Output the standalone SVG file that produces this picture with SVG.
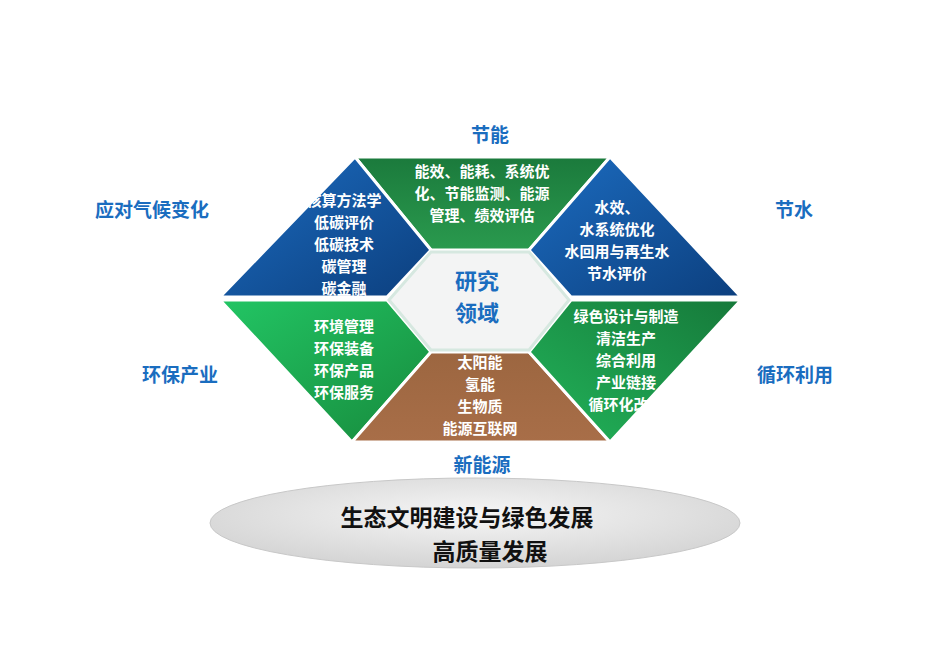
<svg xmlns="http://www.w3.org/2000/svg" width="950" height="672" viewBox="0 0 950 672">
<defs>
<linearGradient id="gT" x1="0" y1="0" x2="0" y2="1"><stop offset="0" stop-color="#1b7a3c"/><stop offset="1" stop-color="#2a9a4e"/></linearGradient>
<linearGradient id="gB" x1="0" y1="0" x2="1" y2="1"><stop offset="0" stop-color="#1c6cc0"/><stop offset="1" stop-color="#0c3f7e"/></linearGradient>
<linearGradient id="gLL" x1="0" y1="0" x2="1" y2="1"><stop offset="0" stop-color="#22c564"/><stop offset="1" stop-color="#178a3c"/></linearGradient>
<linearGradient id="gLR" x1="1" y1="0" x2="0" y2="1"><stop offset="0" stop-color="#16793a"/><stop offset="1" stop-color="#22b45a"/></linearGradient>
<linearGradient id="gBr" x1="0" y1="0" x2="0" y2="1"><stop offset="0" stop-color="#9c6640"/><stop offset="1" stop-color="#a86e48"/></linearGradient>
<radialGradient id="gE" cx="0.5" cy="0.4" r="0.6"><stop offset="0" stop-color="#f6f6f6"/><stop offset="1" stop-color="#d4d4d4"/></radialGradient>
<clipPath id="cLR"><polygon points="741,300 610,442 531,352 571,300"/></clipPath>
<clipPath id="cUL"><polygon points="355,157 220,297 387,297 431,250"/></clipPath>
</defs>
<style>
.seg{stroke:#ffffff;stroke-width:3}
.w{font-family:"Liberation Sans","Noto Sans CJK SC",sans-serif;font-weight:bold;font-size:15px;fill:#fff;text-anchor:middle}
.lab{font-family:"Liberation Sans","Noto Sans CJK SC",sans-serif;font-weight:bold;font-size:19px;fill:#1a6dbf;text-anchor:middle}
.k{font-family:"Liberation Sans","Noto Sans CJK SC",sans-serif;font-weight:bold;font-size:23px;fill:#111;text-anchor:middle}
</style>
<g id="top"><polygon class="seg" points="355,157 610,157 529,250 431,250" fill="url(#gT)"/>
<text class="w" x="482" y="177">能效、能耗、系统优</text><text class="w" x="482" y="199">化、节能监测、能源</text><text class="w" x="482" y="221">管理、绩效评估</text></g>
<g id="upperLeft"><polygon class="seg" points="355,157 220,297 387,297 431,250" fill="url(#gB)"/>
<g clip-path="url(#cUL)"><text class="w" x="344" y="206">核算方法学</text><text class="w" x="344" y="228">低碳评价</text><text class="w" x="344" y="250">低碳技术</text><text class="w" x="344" y="272">碳管理</text><text class="w" x="344" y="294">碳金融</text></g></g>
<g id="upperRight"><polygon class="seg" points="610,157 741,297 571,297 529,250" fill="url(#gB)"/>
<text class="w" x="617" y="213">水效、</text><text class="w" x="617" y="235">水系统优化</text><text class="w" x="617" y="257">水回用与再生水</text><text class="w" x="617" y="279">节水评价</text></g>
<g id="lowerLeft"><polygon class="seg" points="220,300 352,442 431,352 387,300" fill="url(#gLL)"/>
<text class="w" x="344" y="332">环境管理</text><text class="w" x="344" y="354">环保装备</text><text class="w" x="344" y="376">环保产品</text><text class="w" x="344" y="398">环保服务</text></g>
<g id="bottom"><polygon class="seg" points="431,352 529,352 610,442 352,442" fill="url(#gBr)"/>
<text class="w" x="480" y="368">太阳能</text><text class="w" x="480" y="390">氢能</text><text class="w" x="480" y="412">生物质</text><text class="w" x="480" y="434">能源互联网</text></g>
<g id="lowerRight"><polygon class="seg" points="741,300 610,442 529,352 571,300" fill="url(#gLR)"/>
<g clip-path="url(#cLR)"><text class="w" x="626" y="322">绿色设计与制造</text><text class="w" x="626" y="344">清洁生产</text><text class="w" x="626" y="366">综合利用</text><text class="w" x="626" y="388">产业链接</text><text class="w" x="626" y="410">循环化改造</text></g></g>
<g id="center"><polygon points="431,252 529,252 569,300 529,350 431,350 389,300" fill="#f3f4f4" stroke="#d6e8e0" stroke-width="3"/>
<text class="lab" style="font-size:22px" x="477" y="289">研究</text><text class="lab" style="font-size:22px" x="477" y="321">领域</text></g>
<g id="labels">
<text class="lab" x="490" y="142">节能</text><text class="lab" x="152" y="217">应对气候变化</text><text class="lab" x="794" y="217">节水</text>
<text class="lab" x="180" y="382">环保产业</text><text class="lab" x="795" y="382">循环利用</text><text class="lab" x="482" y="472">新能源</text></g>
<g id="base"><ellipse cx="475" cy="523" rx="265" ry="45" fill="url(#gE)" stroke="#c8c8c8"/>
<text class="k" x="467" y="526">生态文明建设与绿色发展</text><text class="k" x="490" y="560">高质量发展</text></g>
<g id="connectors"/>
</svg>
